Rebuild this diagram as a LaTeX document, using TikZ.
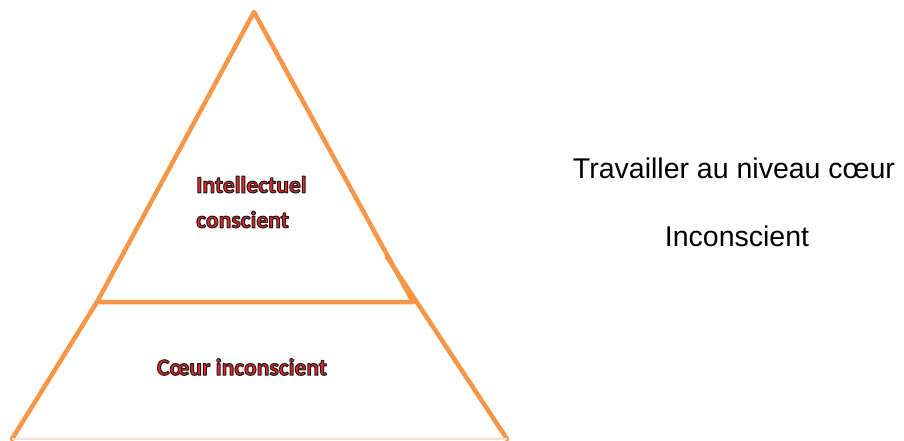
\documentclass[tikz,border=0pt]{standalone}
\usepackage{fontspec}
\setmainfont{Liberation Sans}
\newfontfamily\labelfont{Carlito}
\usepackage{tikz}
\definecolor{pyrorange}{HTML}{F79646}
\definecolor{pyrred}{RGB}{235,38,38}
\tikzset{
	edge/.style={
		% The line:
		draw=pyrorange,line width=4.5pt,
		% The ends:
		line cap=round,line join=round,
	}}
\tikzset{
		level/.style={
			% The font:
			font=\labelfont\bfseries\fontsize{23.6}{35}\selectfont,
			% The text:
			align=left,inner sep=0pt,
		}}
\tikzset{
		note/.style={
			font=\fontsize{28.5}{34}\selectfont,inner sep=0pt,
		}}
% red text with a dark outline (fill and stroke)
\newcommand{\redlabel}[1]{\textcolor{pyrred}{\special{pdf:code 0.1 0.1 0.1 RG 2 Tr 1 w 1 j}#1\special{pdf:code 0 Tr}}}

\begin{document}
\begin{tikzpicture}[x=1pt,y=-1pt]
				\useasboundingbox[fill=white] (0,0) rectangle (904,441);
				% upper triangle
				\coordinate (top) at (254,12);
				\coordinate (ul) at (97,302);
				\coordinate (ur) at (413,302);
				% lower part
				\coordinate (ll) at (12,439);
				\coordinate (lr) at (507,439);
				\coordinate (rt) at (387,257);
				\draw[edge] (ul) -- (top) -- (ur) -- cycle;
				\draw[edge] (ll) -- (ul);
				\draw[edge] (lr) -- (rt);
				\draw[draw=pyrorange!30,line width=2pt] (ll) -- (lr);
				% texts
				\node[level,anchor=north west] (intel) at (196,176) {\redlabel{Intellectuel}\\\redlabel{conscient}};
				\node[level] (coeur) at (242,367) {\redlabel{Cœur inconscient}};
				\node[note] (work) at (734,168) {Travailler au niveau cœur};
				\node[note] (incon) at (737,236) {Inconscient};
				\end{tikzpicture}
\end{document}
